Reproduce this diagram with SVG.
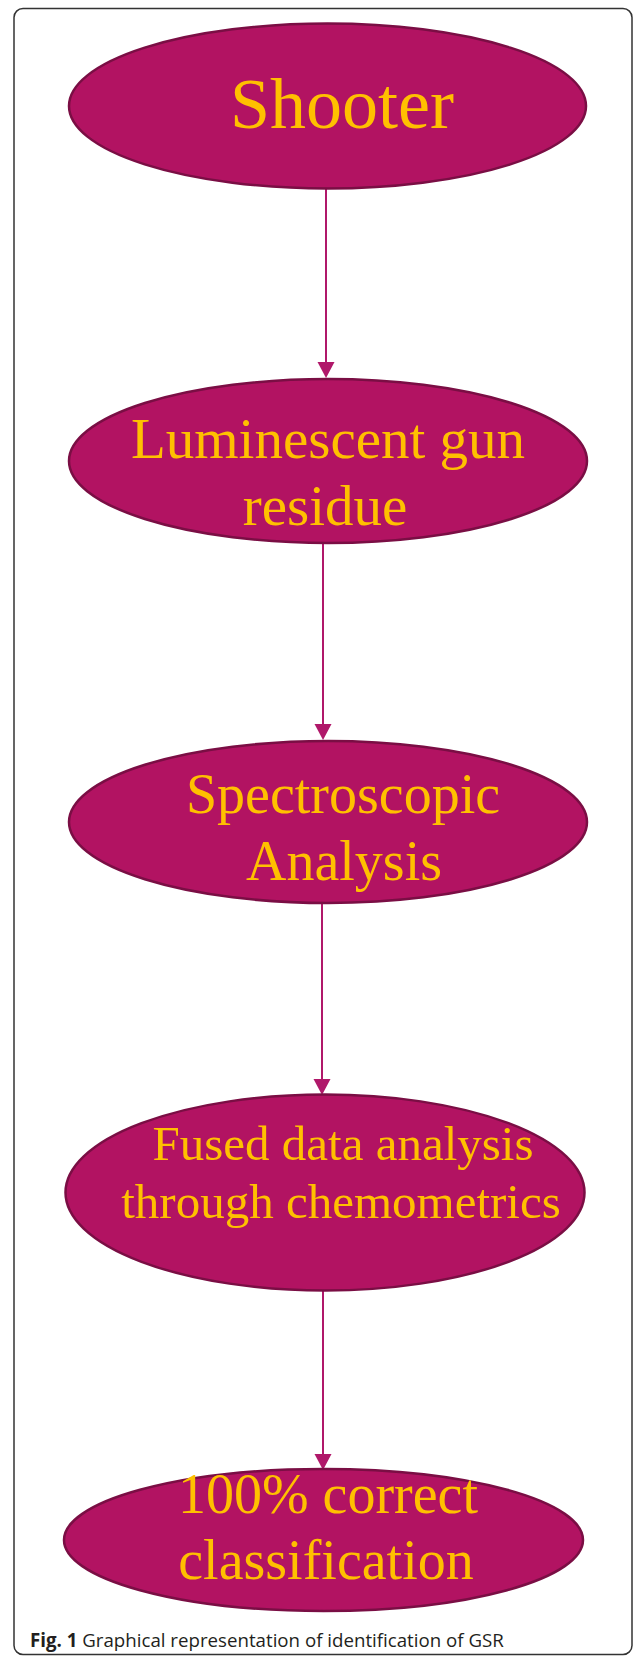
<svg xmlns="http://www.w3.org/2000/svg" width="633" height="1656" viewBox="0 0 633 1656">
<style>
.node ellipse{fill:#B21362;stroke:#7A0E44;stroke-width:2.5}
.node text{font-family:"Liberation Serif","Times New Roman",serif;fill:#FFC000;text-anchor:middle}
.conn path.l{stroke:#B0186A;stroke-width:2;fill:none}
.conn path.h{fill:#B0186A}
.cap{font-family:"Open Sans","Liberation Sans",sans-serif;font-size:18.7px;fill:#231F20}
</style>
<rect x="14" y="8.5" width="618" height="1646" rx="9" ry="9" fill="#fff" stroke="#333" stroke-width="1.5"/>
<g id="connectors" class="conn">
<path class="l" d="M326,188 L326,362"/>
<path class="h" d="M317.5,362 L334.5,362 L326,378 Z"/>
<path class="l" d="M323,543 L323,724"/>
<path class="h" d="M314.5,724 L331.5,724 L323,740 Z"/>
<path class="l" d="M322,903 L322,1079"/>
<path class="h" d="M313.5,1079 L330.5,1079 L322,1095 Z"/>
<path class="l" d="M323,1290 L323,1454"/>
<path class="h" d="M314.5,1454 L331.5,1454 L323,1470 Z"/>
</g>
<g id="n1" class="node">
<ellipse cx="327.5" cy="106" rx="258.5" ry="82.5"/>
<text x="342" y="128" font-size="72">Shooter</text>
</g>
<g id="n2" class="node">
<ellipse cx="328" cy="461" rx="259" ry="82"/>
<text x="328" y="458" font-size="57">Luminescent gun</text>
<text x="325" y="525" font-size="57">residue</text>
</g>
<g id="n3" class="node">
<ellipse cx="328" cy="822" rx="259" ry="81"/>
<text x="343" y="813" font-size="56">Spectroscopic</text>
<text x="344" y="880" font-size="56">Analysis</text>
</g>
<g id="n4" class="node">
<ellipse cx="325" cy="1192.5" rx="259.5" ry="98"/>
<text x="343" y="1160" font-size="49">Fused data analysis</text>
<text x="341" y="1218" font-size="49">through chemometrics</text>
</g>
<g id="n5" class="node">
<ellipse cx="323.5" cy="1540" rx="259.5" ry="71"/>
<text x="328" y="1513" font-size="56">100% correct</text>
<text x="326" y="1579" font-size="56">classification</text>
</g>
<text class="cap" x="30" y="1647"><tspan font-weight="bold">Fig. 1</tspan> Graphical representation of identification of GSR</text>
</svg>
